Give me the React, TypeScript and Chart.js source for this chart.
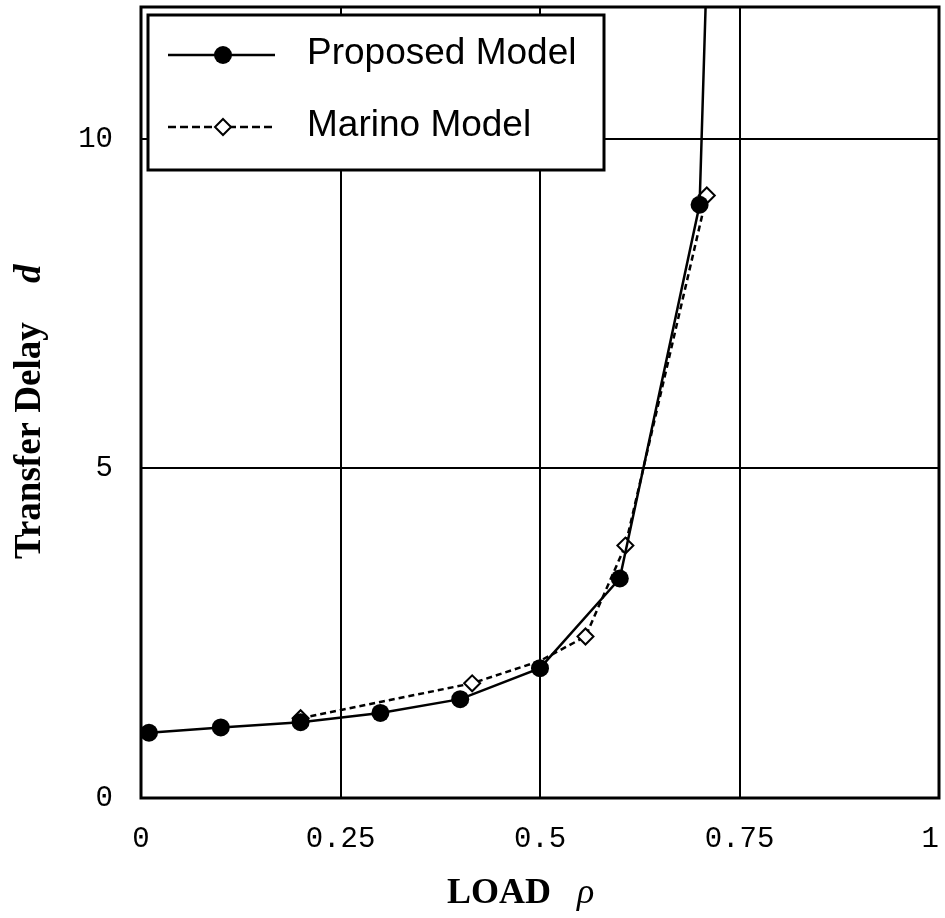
import React, { useEffect, useRef } from "react";
import { Chart, registerables } from "chart.js";

Chart.register(...registerables);

const proposedX = [0.01, 0.1, 0.2, 0.3, 0.4, 0.5, 0.6, 0.7, 0.71];
const proposedY = [0.99, 1.07, 1.15, 1.29, 1.5, 1.97, 3.33, 9.0, 13.0];
const marinoX = [0.2, 0.415, 0.5, 0.557, 0.607, 0.709];
const marinoY = [1.21, 1.74, 2.08, 2.45, 3.83, 9.14];
const marinoMarkerShown = [true, true, false, true, true, true];
const xTicks = [0, 0.25, 0.5, 0.75, 1];
const yTicks = [0, 5, 10];
const seriesNames = ["Proposed Model", "Marino Model"];
const xTitle = "LOAD";
const xTitleSym = "ρ";
const yTitle = "Transfer Delay";
const yTitleSym = "d";

const drawCircle = (ctx: CanvasRenderingContext2D, x: number, y: number, r: number) => {
  ctx.beginPath();
  ctx.arc(x, y, r, 0, Math.PI * 2);
  ctx.fillStyle = "#000";
  ctx.fill();
};
const drawDiamond = (ctx: CanvasRenderingContext2D, x: number, y: number, r: number) => {
  ctx.beginPath();
  ctx.moveTo(x, y - r);
  ctx.lineTo(x + r, y);
  ctx.lineTo(x, y + r);
  ctx.lineTo(x - r, y);
  ctx.closePath();
  ctx.fillStyle = "#fff";
  ctx.fill();
  ctx.lineWidth = 2;
  ctx.strokeStyle = "#000";
  ctx.stroke();
};

const decorPlugin = {
  id: "decor",
  afterDraw(chart: any) {
    const ctx: CanvasRenderingContext2D = chart.ctx;
    const a = chart.chartArea;
    ctx.save();
    // frame
    ctx.lineWidth = 3;
    ctx.strokeStyle = "#000";
    ctx.setLineDash([]);
    ctx.strokeRect(a.left, a.top, a.right - a.left, a.bottom - a.top);

    // legend
    const lx = a.left + 7, ly = a.top + 8, lw = 456, lh = 155;
    ctx.fillStyle = "#fff";
    ctx.fillRect(lx, ly, lw, lh);
    ctx.lineWidth = 3;
    ctx.strokeRect(lx, ly, lw, lh);
    const rows = [ly + 40, ly + 112];
    ctx.lineWidth = 2.5;
    ctx.beginPath();
    ctx.moveTo(lx + 20, rows[0]);
    ctx.lineTo(lx + 127, rows[0]);
    ctx.stroke();
    drawCircle(ctx, lx + 75, rows[0], 9);
    ctx.setLineDash([8, 4]);
    ctx.lineWidth = 2.5;
    ctx.beginPath();
    ctx.moveTo(lx + 20, rows[1]);
    ctx.lineTo(lx + 127, rows[1]);
    ctx.stroke();
    ctx.setLineDash([]);
    drawDiamond(ctx, lx + 75, rows[1], 8);
    ctx.fillStyle = "#000";
    ctx.font = '37px "Liberation Sans", Arial, sans-serif';
    ctx.textBaseline = "middle";
    ctx.textAlign = "left";
    ctx.fillText(seriesNames[0], lx + 159, rows[0] - 1);
    ctx.fillText(seriesNames[1], lx + 159, rows[1] - 1);

    // x title
    ctx.textBaseline = "alphabetic";
    ctx.font = 'bold 36px "Liberation Serif", "Times New Roman", serif';
    const xStart = a.left + 306;
    const yBase = a.bottom + 105;
    ctx.fillText(xTitle, xStart, yBase);
    const wL = ctx.measureText(xTitle).width;
    ctx.font = 'italic 36px "Liberation Serif", "Times New Roman", serif';
    ctx.fillText(xTitleSym, xStart + wL + 26, yBase);

    // y title
    ctx.translate(a.left - 101, a.bottom - 239);
    ctx.rotate(-Math.PI / 2);
    ctx.font = 'bold 37px "Liberation Serif", "Times New Roman", serif';
    ctx.fillText(yTitle, 0, 0);
    ctx.font = 'bold italic 37px "Liberation Serif", "Times New Roman", serif';
    ctx.fillText(yTitleSym, 276, 0);
    ctx.restore();
  },
};

export default function App() {
  const ref = useRef<HTMLCanvasElement>(null);
  useEffect(() => {
    if (!ref.current) return;
    const chart = new Chart(ref.current, {
      type: "line",
      data: {
        datasets: [
          {
            label: seriesNames[0],
            data: proposedX.map((x, i) => ({ x, y: proposedY[i] })),
            borderColor: "#000",
            backgroundColor: "#000",
            borderWidth: 2.5,
            pointStyle: "circle",
            pointRadius: 9,
            pointBorderWidth: 0,
            pointBackgroundColor: "#000",
            tension: 0,
            order: 1,
          },
          {
            label: seriesNames[1],
            data: marinoX.map((x, i) => ({ x, y: marinoY[i] })),
            borderColor: "#000",
            backgroundColor: "#fff",
            borderWidth: 2.5,
            borderDash: [6, 4],
            pointStyle: "rectRot",
            pointRadius: marinoMarkerShown.map((s) => (s ? 8 : 0)),
            pointBorderWidth: 2,
            pointBorderColor: "#000",
            pointBackgroundColor: "#fff",
            tension: 0,
            order: 2,
          },
        ],
      },
      options: {
        animation: false,
        responsive: false,
        layout: { autoPadding: false, padding: { top: 7, right: 6, left: 0, bottom: 0 } },
        plugins: { legend: { display: false }, tooltip: { enabled: false } },
        scales: {
          x: {
            type: "linear",
            min: 0,
            max: 1,
            afterBuildTicks: (s: any) => {
              s.ticks = xTicks.map((v) => ({ value: v }));
            },
            afterFit: (s: any) => {
              s.height = 120;
              s.paddingLeft = 0;
              s.paddingRight = 0;
            },
            ticks: {
              color: "#000",
              font: { family: '"Liberation Mono", monospace', size: 29 },
              padding: 24,
              maxRotation: 0,
              autoSkip: false,
              callback: (v: any) => (v === 1 ? "1 " : String(v)),
            },
            grid: { color: "#000", lineWidth: 2, drawTicks: false },
            border: { display: false },
          },
          y: {
            type: "linear",
            min: 0,
            max: 12,
            afterBuildTicks: (s: any) => {
              s.ticks = yTicks.map((v) => ({ value: v }));
            },
            afterFit: (s: any) => {
              s.width = 141;
              s.paddingTop = 0;
              s.paddingBottom = 0;
            },
            ticks: {
              color: "#000",
              font: { family: '"Liberation Mono", monospace', size: 29 },
              padding: 28,
              autoSkip: false,
              callback: (v: any) => String(v),
            },
            grid: { color: "#000", lineWidth: 2, drawTicks: false },
            border: { display: false },
          },
        },
      },
      plugins: [decorPlugin],
    });
    return () => chart.destroy();
  }, []);
  return (
    <div style={{ position: "absolute", left: 0, top: 0, width: 945, height: 918, overflow: "hidden", background: "#fff" }}>
      <canvas ref={ref} width={945} height={918} style={{ display: "block" }} />
    </div>
  );
}
